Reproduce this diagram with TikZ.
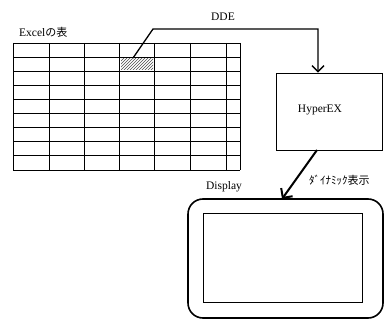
\documentclass[tikz,border=0pt]{standalone}
\usepackage{fontspec}
\setmainfont{Liberation Serif}
\newfontfamily\jpfont{Noto Sans CJK JP}
\usetikzlibrary{arrows.meta,patterns}
\begin{document}
\begin{tikzpicture}[x=1pt,y=-1pt,
  grid/.style={line width=0.8pt,black},
  conn/.style={line width=1.3pt,black},
  lbl/.style={font=\fontsize{11.5}{12}\selectfont,inner sep=0pt},
  box/.style={draw,line width=0.9pt,inner sep=0pt}]
\useasboundingbox (0,0) rectangle (387,320);
% table
\foreach \x in {13,49,84,119,154,190,226,240} \draw[grid] (\x,43) -- (\x,170);
\foreach \y in {43,57.1,71.2,85.3,99.4,113.6,127.7,141.8,155.9,170} \draw[grid] (13,\y) -- (240,\y);
\fill[pattern=north east lines,pattern color=black!70] (121,59) rectangle (153,70);
\node[lbl,anchor=west] (excel) at (19,32) {Excel{\jpfont\fontsize{11}{12}\selectfont の表}};
% DDE
\coordinate (cell) at (133,58);
\node[box,minimum width=106,minimum height=77] (hyper) at (329,111.5) {};
\node[lbl] (hyperlbl) at (320,110) {HyperEX};
\node[lbl] (dde) at (223,17) {DDE};
\coordinate (c1) at (153,29);
\coordinate (c2) at (318,29);
\draw[conn,-{Straight Barb[length=6pt,width=12pt,line width=1.3pt]}] (cell) -- (c1) -- (c2) -- (c2 |- hyper.north);
% display
\node[draw,line width=1.6pt,rounded corners=15pt,minimum width=195,minimum height=119,inner sep=0pt] (disp) at (285.5,258.5) {};
\node[draw,line width=0.9pt,minimum width=159,minimum height=89,inner sep=0pt] (screen) at (282.5,257.5) {};
\node[lbl] (displbl) at (224,187) {Display};
\node[lbl,anchor=west] (dyn) at (309,180) {\jpfont\fontsize{11}{12}\selectfont ﾀﾞｲﾅﾐｯｸ表示};
\draw[line width=2pt,-{Straight Barb[length=7pt,width=14pt,line width=2pt]}] (317,150) -- (282,199);
\end{tikzpicture}
\end{document}
